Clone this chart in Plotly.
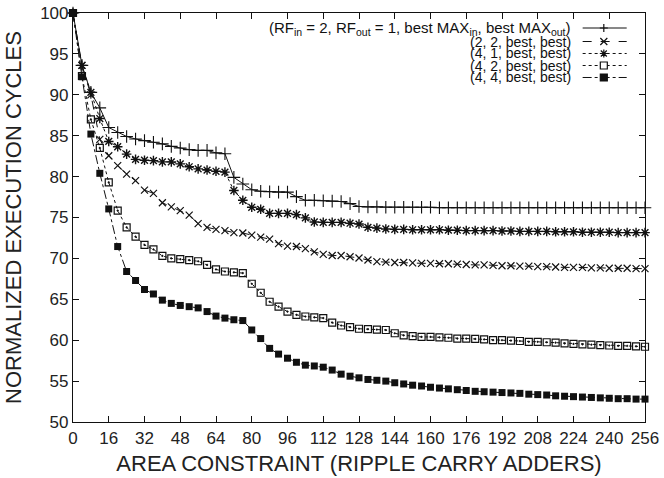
import plotly.graph_objects as go

area = list(range(0, 257, 4))

rf2_1 = [100, 93.6, 90.3, 88.4, 86.0, 85.4, 84.9, 84.6, 84.4, 84.2, 84.0, 83.7, 83.5, 83.3, 83.2, 83.2,
         82.9, 82.8, 79.9, 79.1, 78.4, 78.2, 78.15, 78.1, 78.1, 77.55, 77.1, 77.1, 77.05, 77.0, 76.95,
         76.7, 76.35, 76.3, 76.3, 76.25,
         76.25, 76.25, 76.25, 76.25, 76.25, 76.2, 76.2, 76.2, 76.2, 76.2, 76.2, 76.2, 76.2, 76.2, 76.2,
         76.2, 76.2, 76.2, 76.2, 76.2, 76.2, 76.2, 76.2, 76.2, 76.2, 76.2, 76.2, 76.2, 76.2]

rf2_2 = [100, 93.6, 90.0, 84.55, 82.55, 81.35, 80.3, 79.5, 78.35, 77.95, 76.8, 76.3, 75.85, 75.3, 74.25,
         73.8, 73.55, 73.4, 73.15, 73.1, 72.85, 72.6, 72.35, 71.8, 71.5, 71.45, 71.2, 70.8, 70.5, 70.35,
         70.35, 70.2, 70.05, 69.8, 69.6, 69.55,
         69.5, 69.5, 69.45, 69.4, 69.4, 69.35, 69.35, 69.3, 69.25, 69.2, 69.2, 69.15, 69.1, 69.1, 69.05,
         69.05, 69.0, 69.0, 68.95, 68.9, 68.9, 68.9, 68.85, 68.85, 68.8, 68.8, 68.8, 68.75, 68.75]

rf4_1 = [100, 93.6, 90.3, 87.1, 84.3, 83.65, 82.75, 82.1, 82.0, 81.95, 81.8, 81.8, 81.55, 81.2, 80.95,
         80.8, 80.65, 80.55, 78.3, 77.1, 76.25, 76.0, 75.5, 75.5, 75.5, 75.35, 74.95, 74.45, 74.4, 74.4,
         74.4, 74.3, 74.2, 73.8, 73.7, 73.6,
         73.55, 73.55, 73.5, 73.5, 73.5, 73.5, 73.45, 73.45, 73.4, 73.4, 73.4, 73.4, 73.35, 73.35, 73.3,
         73.3, 73.3, 73.3, 73.25, 73.25, 73.25, 73.2, 73.2, 73.2, 73.2, 73.15, 73.15, 73.15, 73.15]

rf4_2 = [100, 92.3, 87.0, 83.5, 79.3, 75.85, 73.8, 72.65, 71.65, 71.1, 70.3, 70.0, 69.9, 69.8, 69.65,
         69.2, 68.65, 68.4, 68.3, 68.2, 66.9, 65.8, 64.7, 64.1, 63.5, 63.1, 62.9, 62.8, 62.7, 62.15,
         61.8, 61.6, 61.4, 61.35, 61.3, 61.25,
         60.85, 60.6, 60.5, 60.4, 60.4, 60.35, 60.3, 60.2, 60.2, 60.15, 60.1, 60.0, 60.0, 59.95, 59.9,
         59.8, 59.8, 59.75, 59.7, 59.6, 59.55, 59.5, 59.45, 59.4, 59.35, 59.3, 59.3, 59.25, 59.2]

rf4_4 = [100, 92.2, 85.2, 80.4, 76.05, 71.45, 68.4, 67.3, 66.2, 65.65, 64.9, 64.5, 64.25, 64.1, 63.95,
         63.5, 62.95, 62.7, 62.5, 62.4, 61.25, 60.2, 59.0, 58.3, 57.8, 57.3, 56.95, 56.85, 56.7, 56.35,
         55.85, 55.6, 55.4, 55.2, 55.1, 55.0,
         54.8, 54.65, 54.5, 54.4, 54.25, 54.15, 54.05, 53.95, 53.85, 53.75, 53.7, 53.65, 53.6, 53.55, 53.5,
         53.4, 53.35, 53.3, 53.2, 53.15, 53.1, 53.05, 53.0, 52.95, 52.9, 52.85, 52.85, 52.8, 52.8]

legend_labels = [
    "(RF<sub>in</sub> = 2, RF<sub>out</sub> = 1, best MAX<sub>in</sub>, best MAX<sub>out</sub>)",
    "(2, 2, best, best)",
    "(4, 1, best, best)",
    "(4, 2, best, best)",
    "(4, 4, best, best)",
]
x_ticks = list(range(0, 257, 16))
y_ticks = list(range(50, 101, 5))

INK = "#111111"
FONT = "Liberation Sans, Arial, Helvetica, sans-serif"

series = [
    (rf2_1, "solid", dict(symbol="cross-thin", size=9, line=dict(width=1.1, color=INK))),
    (rf2_2, "dash", dict(symbol="x-thin", size=7, line=dict(width=1.2, color=INK))),
    (rf4_1, "dot", dict(symbol="asterisk-open", size=8, line=dict(width=1.4, color=INK))),
    (rf4_2, "dot", dict(symbol="square-open-dot", size=7, color=INK, line=dict(width=1.2, color=INK))),
    (rf4_4, "dashdot", dict(symbol="square", size=7, color=INK, line=dict(width=0, color=INK))),
]

fig = go.Figure()
for (vals, dash, marker), name in zip(series, legend_labels):
    fig.add_trace(go.Scatter(x=area, y=vals, mode="lines+markers", name=name,
                             line=dict(color=INK, width=1, dash=dash), marker=marker,
                             showlegend=False, cliponaxis=False))

# custom legend (text right-aligned, sample to the right) in paper coords
rows = [0.9633, 0.9303, 0.901, 0.8716, 0.8423]
text_x = 0.8734
s0, s1, sm = 0.891, 0.968, 0.928
dashes = ["solid", "dash", "dot", "dot", "dashdot"]
glyphs = [
    "M -4,0 L 4,0 M 0,-4 L 0,4",
    "M -3.5,-3.5 L 3.5,3.5 M -3.5,3.5 L 3.5,-3.5",
    "M -4,0 L 4,0 M 0,-4 L 0,4 M -3,-3 L 3,3 M -3,3 L 3,-3",
]
shapes = []
annotations = []
for i, (lab, yy) in enumerate(zip(legend_labels, rows)):
    annotations.append(dict(text=lab, x=text_x, y=yy, xref="paper", yref="paper",
                            xanchor="right", yanchor="middle", showarrow=False,
                            font=dict(family=FONT, size=15 if i == 0 else 14, color=INK)))
    shapes.append(dict(type="line", xref="paper", yref="paper", x0=s0, x1=s1, y0=yy, y1=yy,
                       line=dict(color=INK, width=1, dash=dashes[i])))
    if i < 3:
        shapes.append(dict(type="path", xref="paper", yref="paper", xsizemode="pixel",
                           ysizemode="pixel", xanchor=sm, yanchor=yy, path=glyphs[i],
                           line=dict(color=INK, width=1.2)))
    else:
        shapes.append(dict(type="rect", xref="paper", yref="paper", xsizemode="pixel",
                           ysizemode="pixel", xanchor=sm, yanchor=yy,
                           x0=-3.5, x1=3.5, y0=-3.5, y1=3.5,
                           fillcolor=INK if i == 4 else "white",
                           line=dict(color=INK, width=1.2)))

fig.update_layout(
    width=664, height=478,
    margin=dict(l=73, r=19, t=13, b=56),
    paper_bgcolor="white", plot_bgcolor="white",
    font=dict(family=FONT, color=INK),
    shapes=shapes, annotations=annotations,
)
fig.update_xaxes(range=[0, 256], tickvals=x_ticks, ticktext=[str(v) for v in x_ticks],
                 ticks="inside", ticklen=6, tickcolor=INK, showline=True, linecolor=INK,
                 linewidth=1.2, mirror="ticks", showgrid=False, zeroline=False, automargin=False,
                 tickfont=dict(size=17, family=FONT, color="#222"),
                 title=dict(text="AREA CONSTRAINT (RIPPLE CARRY ADDERS)",
                            font=dict(size=22, family=FONT, color="#222"), standoff=9))
fig.update_yaxes(range=[50, 100], tickvals=y_ticks, ticktext=[str(v) for v in y_ticks],
                 ticks="inside", ticklen=6, tickcolor=INK, showline=True, linecolor=INK,
                 linewidth=1.2, mirror="ticks", showgrid=False, zeroline=False, automargin=False,
                 tickfont=dict(size=17, family=FONT, color="#222"),
                 title=dict(text="NORMALIZED EXECUTION CYCLES",
                            font=dict(size=22, family=FONT, color="#222"), standoff=12))

fig.write_html("out.html", config={"displayModeBar": False},
               post_script="document.body.style.margin='0px';document.body.style.overflow='hidden';")
